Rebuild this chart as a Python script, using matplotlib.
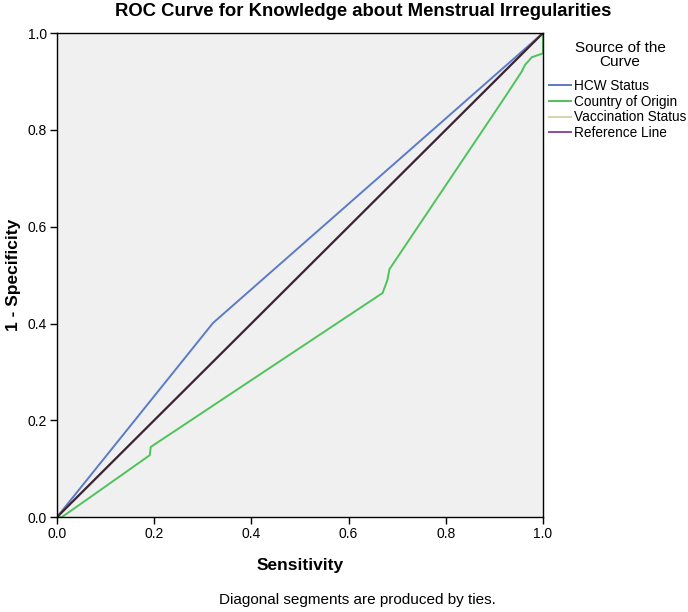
import matplotlib
matplotlib.use("Agg")
import matplotlib.pyplot as plt
from matplotlib.lines import Line2D

plt.rcParams['font.family'] = ['Liberation Sans', 'DejaVu Sans']

# ROC curve points (x = sensitivity axis, y = 1 - specificity axis)
hcw_x = [0.0, 0.321, 1.0]
hcw_y = [0.0, 0.401, 1.0]

origin_x = [0.0, 0.01, 0.064, 0.191, 0.193, 0.670, 0.680, 0.684, 0.918, 0.956, 0.963, 0.977, 1.0, 1.0]
origin_y = [0.0, 0.0, 0.038, 0.128, 0.145, 0.463, 0.490, 0.512, 0.862, 0.920, 0.934, 0.950, 0.958, 1.0]

vacc_x = [0.0, 1.0]
vacc_y = [0.0, 1.0]

ref_x = [0.0, 1.0]
ref_y = [0.0, 1.0]

labels = ['HCW Status', 'Country of Origin', 'Vaccination Status', 'Reference Line']
colors = ['#5b7bc8', '#4cc45a', '#d8d3ab', '#8a4c9a']

ticks = [0.0, 0.2, 0.4, 0.6, 0.8, 1.0]

fig = plt.figure(figsize=(6.88, 6.12), dpi=100)
ax = fig.add_axes([0.0828, 0.155, 0.7064, 0.791])
ax.set_facecolor('#f0f0f0')

ax.plot(hcw_x, hcw_y, color=colors[0], lw=1.4)
ax.plot(origin_x, origin_y, color=colors[1], lw=1.4)
ax.plot(vacc_x, vacc_y, color=colors[2], lw=1.4)
# reference line sits on top of the vaccination curve, looks almost black
ax.plot(ref_x, ref_y, color='#3b2436', lw=1.6)

ax.set_xlim(0, 1)
ax.set_ylim(0, 1)
ax.set_xticks(ticks)
ax.set_yticks(ticks)
ax.set_xticklabels(['%.1f' % t for t in ticks])
ax.set_yticklabels(['%.1f' % t for t in ticks])
ax.tick_params(direction='out', length=5, width=1, labelsize=10, colors='black', pad=2)
for s in ax.spines.values():
    s.set_color('black')
    s.set_linewidth(1)

ax.set_xlabel('Sensitivity', fontsize=12.5, fontweight='bold', labelpad=12)
ax.set_ylabel('1 - Specificity', fontsize=12.5, fontweight='bold', labelpad=5)

fig.text(363 / 688, 1 - 12 / 612, 'ROC Curve for Knowledge about Menstrual Irregularities',
         ha='center', va='center', fontsize=13.3, fontweight='bold')

# legend title drawn separately so the gap matches SPSS output
fig.text(620 / 688, 1 - 55 / 612, 'Source of the\nCurve', ha='center', va='center',
         multialignment='center', fontsize=11, linespacing=1.05)
leg_handles = [Line2D([], [], color=c, lw=1.4) for c in colors]
fig.legend(leg_handles, labels, loc='upper left',
           bbox_to_anchor=(549 / 688, 1 - 79 / 612), frameon=False,
           fontsize=9.8, handlelength=1.6, handletextpad=0.2,
           labelspacing=0.12, borderpad=0, borderaxespad=0)

fig.text(357 / 688, 1 - 600 / 612, 'Diagonal segments are produced by ties.', ha='center',
         va='center', fontsize=11)

fig.savefig('out.png', dpi=100)
